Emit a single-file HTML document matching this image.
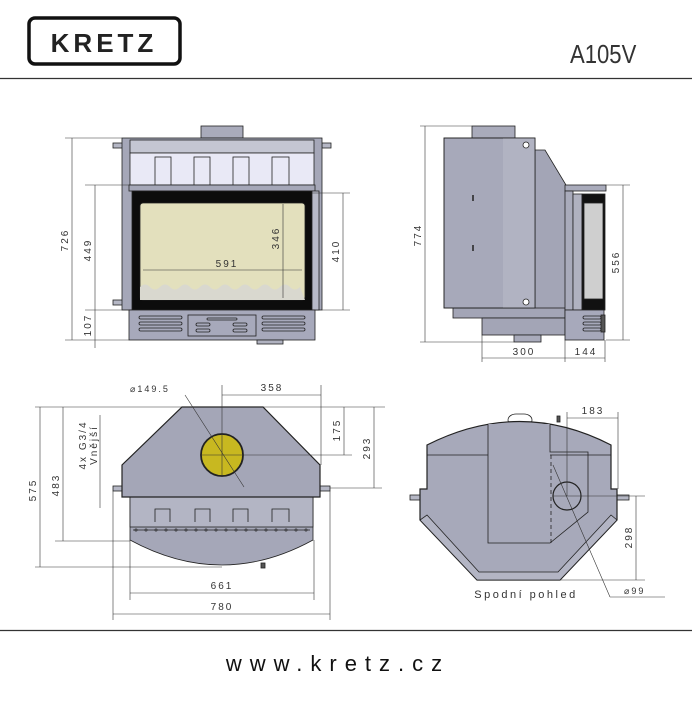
<!DOCTYPE html>
<html><head><meta charset="utf-8"><style>
html,body{margin:0;padding:0;background:#fff}
svg{display:block}
text{font-family:"Liberation Sans",sans-serif;fill:#333}
.d{font-size:10px;letter-spacing:2px}
</style></head><body>
<svg width="692" height="702" viewBox="0 0 692 702" xmlns="http://www.w3.org/2000/svg">
<!-- header -->
<rect x="29" y="18" width="151" height="46" rx="6" fill="none" stroke="#111" stroke-width="3.5"/>
<text x="104" y="52" text-anchor="middle" style="font-size:26px;font-weight:bold;letter-spacing:4px;fill:#222">KRETZ</text>
<text transform="translate(570 63) scale(0.85 1)" style="font-size:26px;fill:#333">A105V</text>
<line x1="0" y1="78.5" x2="692" y2="78.5" stroke="#333" stroke-width="1.2"/>
<line x1="0" y1="630.5" x2="692" y2="630.5" stroke="#333" stroke-width="1.2"/>
<text x="338" y="671" text-anchor="middle" style="font-size:22px;letter-spacing:8px;fill:#111">www.kretz.cz</text>

<g stroke="#222" stroke-width="0.8">
<!-- FRONT VIEW -->
<rect x="201" y="126" width="42" height="12" fill="#a9abbb"/>
<rect x="113" y="143" width="10" height="5" fill="#b5b7c5"/>
<rect x="113" y="300" width="10" height="5" fill="#b5b7c5"/>
<rect x="322" y="143" width="9" height="5" fill="#b5b7c5"/>
<rect x="122" y="138" width="200" height="172" fill="#a5a7b8"/>
<rect x="130" y="140" width="184" height="13" fill="#c4c6d2"/>
<rect x="130" y="153" width="184" height="32" fill="#e9e9f6"/>
<rect x="155" y="157" width="16" height="28" fill="#e9e9f6"/>
<rect x="194" y="157" width="16" height="28" fill="#e9e9f6"/>
<rect x="233" y="157" width="16" height="28" fill="#e9e9f6"/>
<rect x="272" y="157" width="17" height="28" fill="#e9e9f6"/>
<rect x="129" y="185" width="186" height="6" fill="#a5a7b8"/>
<rect x="132" y="191" width="180" height="119" fill="#0c0c0c"/>
<rect x="312" y="191" width="7" height="119" fill="#b8bac8"/>
<rect x="140" y="203" width="165" height="97" rx="3" fill="#e3e0bd"/>
<path d="M140 287 q5 -5 10 0 t10 0 t10 0 t10 0 t10 0 t10 0 t10 0 t10 0 t10 0 t10 0 t10 0 t10 0 t10 0 t10 0 t10 0 t10 0 L305 300 L140 300 Z" fill="#d9d8cf" stroke="none"/>
<rect x="129" y="310" width="186" height="30" fill="#a7a9bb"/>
<rect x="257" y="340" width="26" height="4" fill="#b0b2c0"/>
<rect x="188" y="315" width="68" height="21" fill="none"/>
<g fill="none">
<rect x="139" y="316" width="43" height="3" rx="1.5"/><rect x="139" y="322" width="43" height="3" rx="1.5"/><rect x="139" y="328" width="43" height="3" rx="1.5"/>
<rect x="262" y="316" width="43" height="3" rx="1.5"/><rect x="262" y="322" width="43" height="3" rx="1.5"/><rect x="262" y="328" width="43" height="3" rx="1.5"/>
<rect x="196" y="323" width="14" height="3" rx="1.5"/><rect x="196" y="329" width="14" height="3" rx="1.5"/>
<rect x="233" y="323" width="14" height="3" rx="1.5"/><rect x="233" y="329" width="14" height="3" rx="1.5"/>
<rect x="207" y="318" width="30" height="2" rx="1"/>
</g>
</g>
<g stroke="#333" stroke-width="0.6" fill="none">
<line x1="65" y1="138" x2="122" y2="138"/><line x1="85" y1="185" x2="129" y2="185"/>
<line x1="85" y1="310" x2="129" y2="310"/><line x1="65" y1="340" x2="129" y2="340"/>
<line x1="312" y1="193" x2="350" y2="193"/><line x1="322" y1="310" x2="350" y2="310"/>
<line x1="72" y1="138" x2="72" y2="340"/><line x1="95" y1="185" x2="95" y2="310"/><line x1="95" y1="310" x2="95" y2="348"/>
<line x1="343" y1="193" x2="343" y2="310"/><line x1="283" y1="204" x2="283" y2="298"/>
<line x1="143" y1="270" x2="302" y2="270"/>
</g>
<text class="d" transform="translate(68 240) rotate(-90)" text-anchor="middle">726</text>
<text class="d" transform="translate(91 250) rotate(-90)" text-anchor="middle">449</text>
<text class="d" transform="translate(91 325) rotate(-90)" text-anchor="middle">107</text>
<text class="d" transform="translate(339 251) rotate(-90)" text-anchor="middle">410</text>
<text class="d" transform="translate(279 238) rotate(-90)" text-anchor="middle">346</text>
<text class="d" x="227" y="267" text-anchor="middle">591</text>

<!-- SIDE VIEW -->
<g stroke="#222" stroke-width="0.8">
<rect x="472" y="126" width="43" height="12" fill="#a9abbb"/>
<polygon points="535,150 545,150 566,185 566,310 535,310" fill="#a3a5b6"/>
<rect x="453" y="308" width="112" height="10" fill="#a3a5b6"/>
<rect x="482" y="318" width="83" height="17" fill="#a3a5b6"/>
<rect x="514" y="335" width="27" height="7" fill="#a9abbb"/>
<rect x="444" y="138" width="91" height="170" fill="#a7a9ba"/>
<rect x="503" y="138" width="32" height="170" fill="#b1b3c2" stroke="none"/>
<rect x="444" y="138" width="91" height="170" fill="none"/>
<circle cx="526" cy="145" r="3" fill="#fff"/><circle cx="526" cy="302" r="3" fill="#fff"/>
<line x1="473" y1="195" x2="473" y2="201" stroke-width="1.5"/><line x1="473" y1="245" x2="473" y2="251" stroke-width="1.5"/>
<rect x="565" y="185" width="41" height="6" fill="#a9abbb"/>
<rect x="565" y="191" width="8" height="119" fill="#a9abbb"/>
<rect x="573" y="194" width="9" height="116" fill="#b0b2c0"/>
<rect x="582" y="194" width="23" height="116" fill="#111"/>
<rect x="584" y="203" width="19" height="96" fill="#cfcfcf"/>
<rect x="565" y="310" width="39" height="30" fill="#a7a9bb"/>
<g fill="none"><rect x="583" y="316" width="18" height="3" rx="1.5"/><rect x="583" y="322" width="18" height="3" rx="1.5"/><rect x="583" y="328" width="18" height="3" rx="1.5"/></g>
<rect x="601" y="315" width="4" height="17" fill="#555"/>
</g>
<g stroke="#333" stroke-width="0.6">
<line x1="420" y1="126" x2="472" y2="126"/><line x1="420" y1="342" x2="514" y2="342"/>
<line x1="425" y1="126" x2="425" y2="342"/>
<line x1="606" y1="185" x2="630" y2="185"/><line x1="606" y1="340" x2="630" y2="340"/>
<line x1="623" y1="185" x2="623" y2="340"/>
<line x1="482" y1="335" x2="482" y2="362"/><line x1="565" y1="340" x2="565" y2="362"/><line x1="605" y1="340" x2="605" y2="362"/>
<line x1="482" y1="358" x2="605" y2="358"/>
</g>
<text class="d" transform="translate(421 235) rotate(-90)" text-anchor="middle">774</text>
<text class="d" transform="translate(619 262) rotate(-90)" text-anchor="middle">556</text>
<text class="d" x="524" y="355" text-anchor="middle">300</text>
<text class="d" x="586" y="355" text-anchor="middle">144</text>

<!-- TOP VIEW -->
<g stroke="#222" stroke-width="0.8">
<rect x="113" y="486" width="10" height="5" fill="#b5b7c5"/>
<rect x="320" y="486" width="10" height="5" fill="#b5b7c5"/>
<path d="M130 540 L130 497 L313 497 L313 540 Q222 590 130 540 Z" fill="#a5a7b8"/>
<rect x="130" y="497" width="183" height="30" fill="#b3b5c4"/>
<polygon points="182,407 263,407 320,465 320,497 122,497 122,465" fill="#a4a6b7" stroke-width="1.2"/>
<g fill="none"><path d="M155 522 v-13 h15 v13"/><path d="M195 522 v-13 h15 v13"/><path d="M233 522 v-13 h15 v13"/><path d="M272 522 v-13 h17 v13"/></g>
<line x1="133" y1="530" x2="310" y2="530"/>
<circle cx="222" cy="455" r="21" fill="#c8b820" stroke-width="1.8"/>
<rect x="261" y="563" width="4" height="5" fill="#555"/>
</g>
<g fill="none" stroke="#333" stroke-width="0.6">
<circle cx="136" cy="530" r="1.2"/><circle cx="146" cy="530" r="1.2"/><circle cx="156" cy="530" r="1.2"/><circle cx="166" cy="530" r="1.2"/><circle cx="176" cy="530" r="1.2"/><circle cx="186" cy="530" r="1.2"/><circle cx="196" cy="530" r="1.2"/><circle cx="206" cy="530" r="1.2"/><circle cx="216" cy="530" r="1.2"/><circle cx="226" cy="530" r="1.2"/><circle cx="236" cy="530" r="1.2"/><circle cx="246" cy="530" r="1.2"/><circle cx="256" cy="530" r="1.2"/><circle cx="266" cy="530" r="1.2"/><circle cx="276" cy="530" r="1.2"/><circle cx="286" cy="530" r="1.2"/><circle cx="296" cy="530" r="1.2"/><circle cx="306" cy="530" r="1.2"/>
</g>
<g stroke="#333" stroke-width="0.6">
<line x1="35" y1="407" x2="385" y2="407"/><line x1="35" y1="567" x2="222" y2="567"/>
<line x1="40" y1="407" x2="40" y2="567"/>
<line x1="55" y1="541" x2="130" y2="541"/><line x1="63" y1="407" x2="63" y2="541"/>
<line x1="100" y1="415" x2="100" y2="508"/>
<line x1="222" y1="385" x2="222" y2="477"/><line x1="201" y1="455" x2="352" y2="455"/>
<line x1="321" y1="385" x2="321" y2="465"/><line x1="222" y1="395" x2="321" y2="395"/>
<line x1="344" y1="407" x2="344" y2="455"/>
<line x1="330" y1="488" x2="382" y2="488"/><line x1="374" y1="407" x2="374" y2="488"/>
<line x1="185" y1="395" x2="244" y2="487"/>
<line x1="130" y1="540" x2="130" y2="600"/><line x1="314" y1="540" x2="314" y2="600"/>
<line x1="113" y1="491" x2="113" y2="620"/><line x1="330" y1="491" x2="330" y2="620"/>
<line x1="130" y1="593" x2="314" y2="593"/><line x1="113" y1="614" x2="330" y2="614"/>
</g>
<text class="d" transform="translate(36 490) rotate(-90)" text-anchor="middle">575</text>
<text class="d" transform="translate(59 485) rotate(-90)" text-anchor="middle">483</text>
<text class="d" transform="translate(86 445) rotate(-90)" text-anchor="middle">4x G3/4</text>
<text class="d" transform="translate(97 445) rotate(-90)" text-anchor="middle">Vnější</text>
<text class="d" transform="translate(340 430) rotate(-90)" text-anchor="middle">175</text>
<text class="d" transform="translate(370 448) rotate(-90)" text-anchor="middle">293</text>
<text class="d" x="272" y="391" text-anchor="middle">358</text>
<text class="d" x="130" y="392" style="font-size:9px">⌀149.5</text>
<text class="d" x="222" y="589" text-anchor="middle">661</text>
<text class="d" x="222" y="610" text-anchor="middle">780</text>

<!-- BOTTOM VIEW -->
<g stroke="#222" stroke-width="0.8">
<rect x="410" y="495" width="10" height="5" fill="#b5b7c5"/>
<rect x="617" y="495" width="12" height="5" fill="#b5b7c5"/>
<rect x="508" y="414" width="24" height="12" rx="8" fill="none"/>
<path d="M427 445 Q520 398 611 445 L611 489 L617 489 L617 520 L560 580 L477 580 L420 520 L420 489 L427 489 Z" fill="#a7a9ba" stroke-width="1.2"/>
<polygon points="420,520 477,580 560,580 617,520 611,515 558,572 479,572 427,515" fill="#b3b5c4"/>
<path d="M488 424 L488 543 L550 543 L588 512 L588 452 L550 452 L550 424" fill="#a7a9ba"/>
<line x1="427" y1="455" x2="488" y2="455"/><line x1="550" y1="455" x2="611" y2="455"/>
<line x1="551" y1="455" x2="551" y2="543" stroke-dasharray="4 3"/>
<circle cx="567" cy="496" r="14" fill="none" stroke-width="1.2"/>
<rect x="557" y="416" width="3" height="6" fill="#555"/>
</g>
<g stroke="#333" stroke-width="0.6">
<line x1="567" y1="412" x2="567" y2="496"/><line x1="618" y1="412" x2="618" y2="489"/>
<line x1="567" y1="418" x2="618" y2="418"/>
<line x1="553" y1="496" x2="645" y2="496"/><line x1="560" y1="580" x2="645" y2="580"/>
<line x1="636" y1="496" x2="636" y2="580"/>
<line x1="553" y1="465" x2="610" y2="597"/><line x1="610" y1="597" x2="665" y2="597"/>
</g>
<text class="d" x="593" y="414" text-anchor="middle">183</text>
<text class="d" transform="translate(632 537) rotate(-90)" text-anchor="middle">298</text>
<text class="d" x="624" y="594" style="font-size:9px">⌀99</text>
<text x="526" y="598" text-anchor="middle" style="font-size:11px;letter-spacing:2.5px">Spodní pohled</text>
</svg>
</body></html>
